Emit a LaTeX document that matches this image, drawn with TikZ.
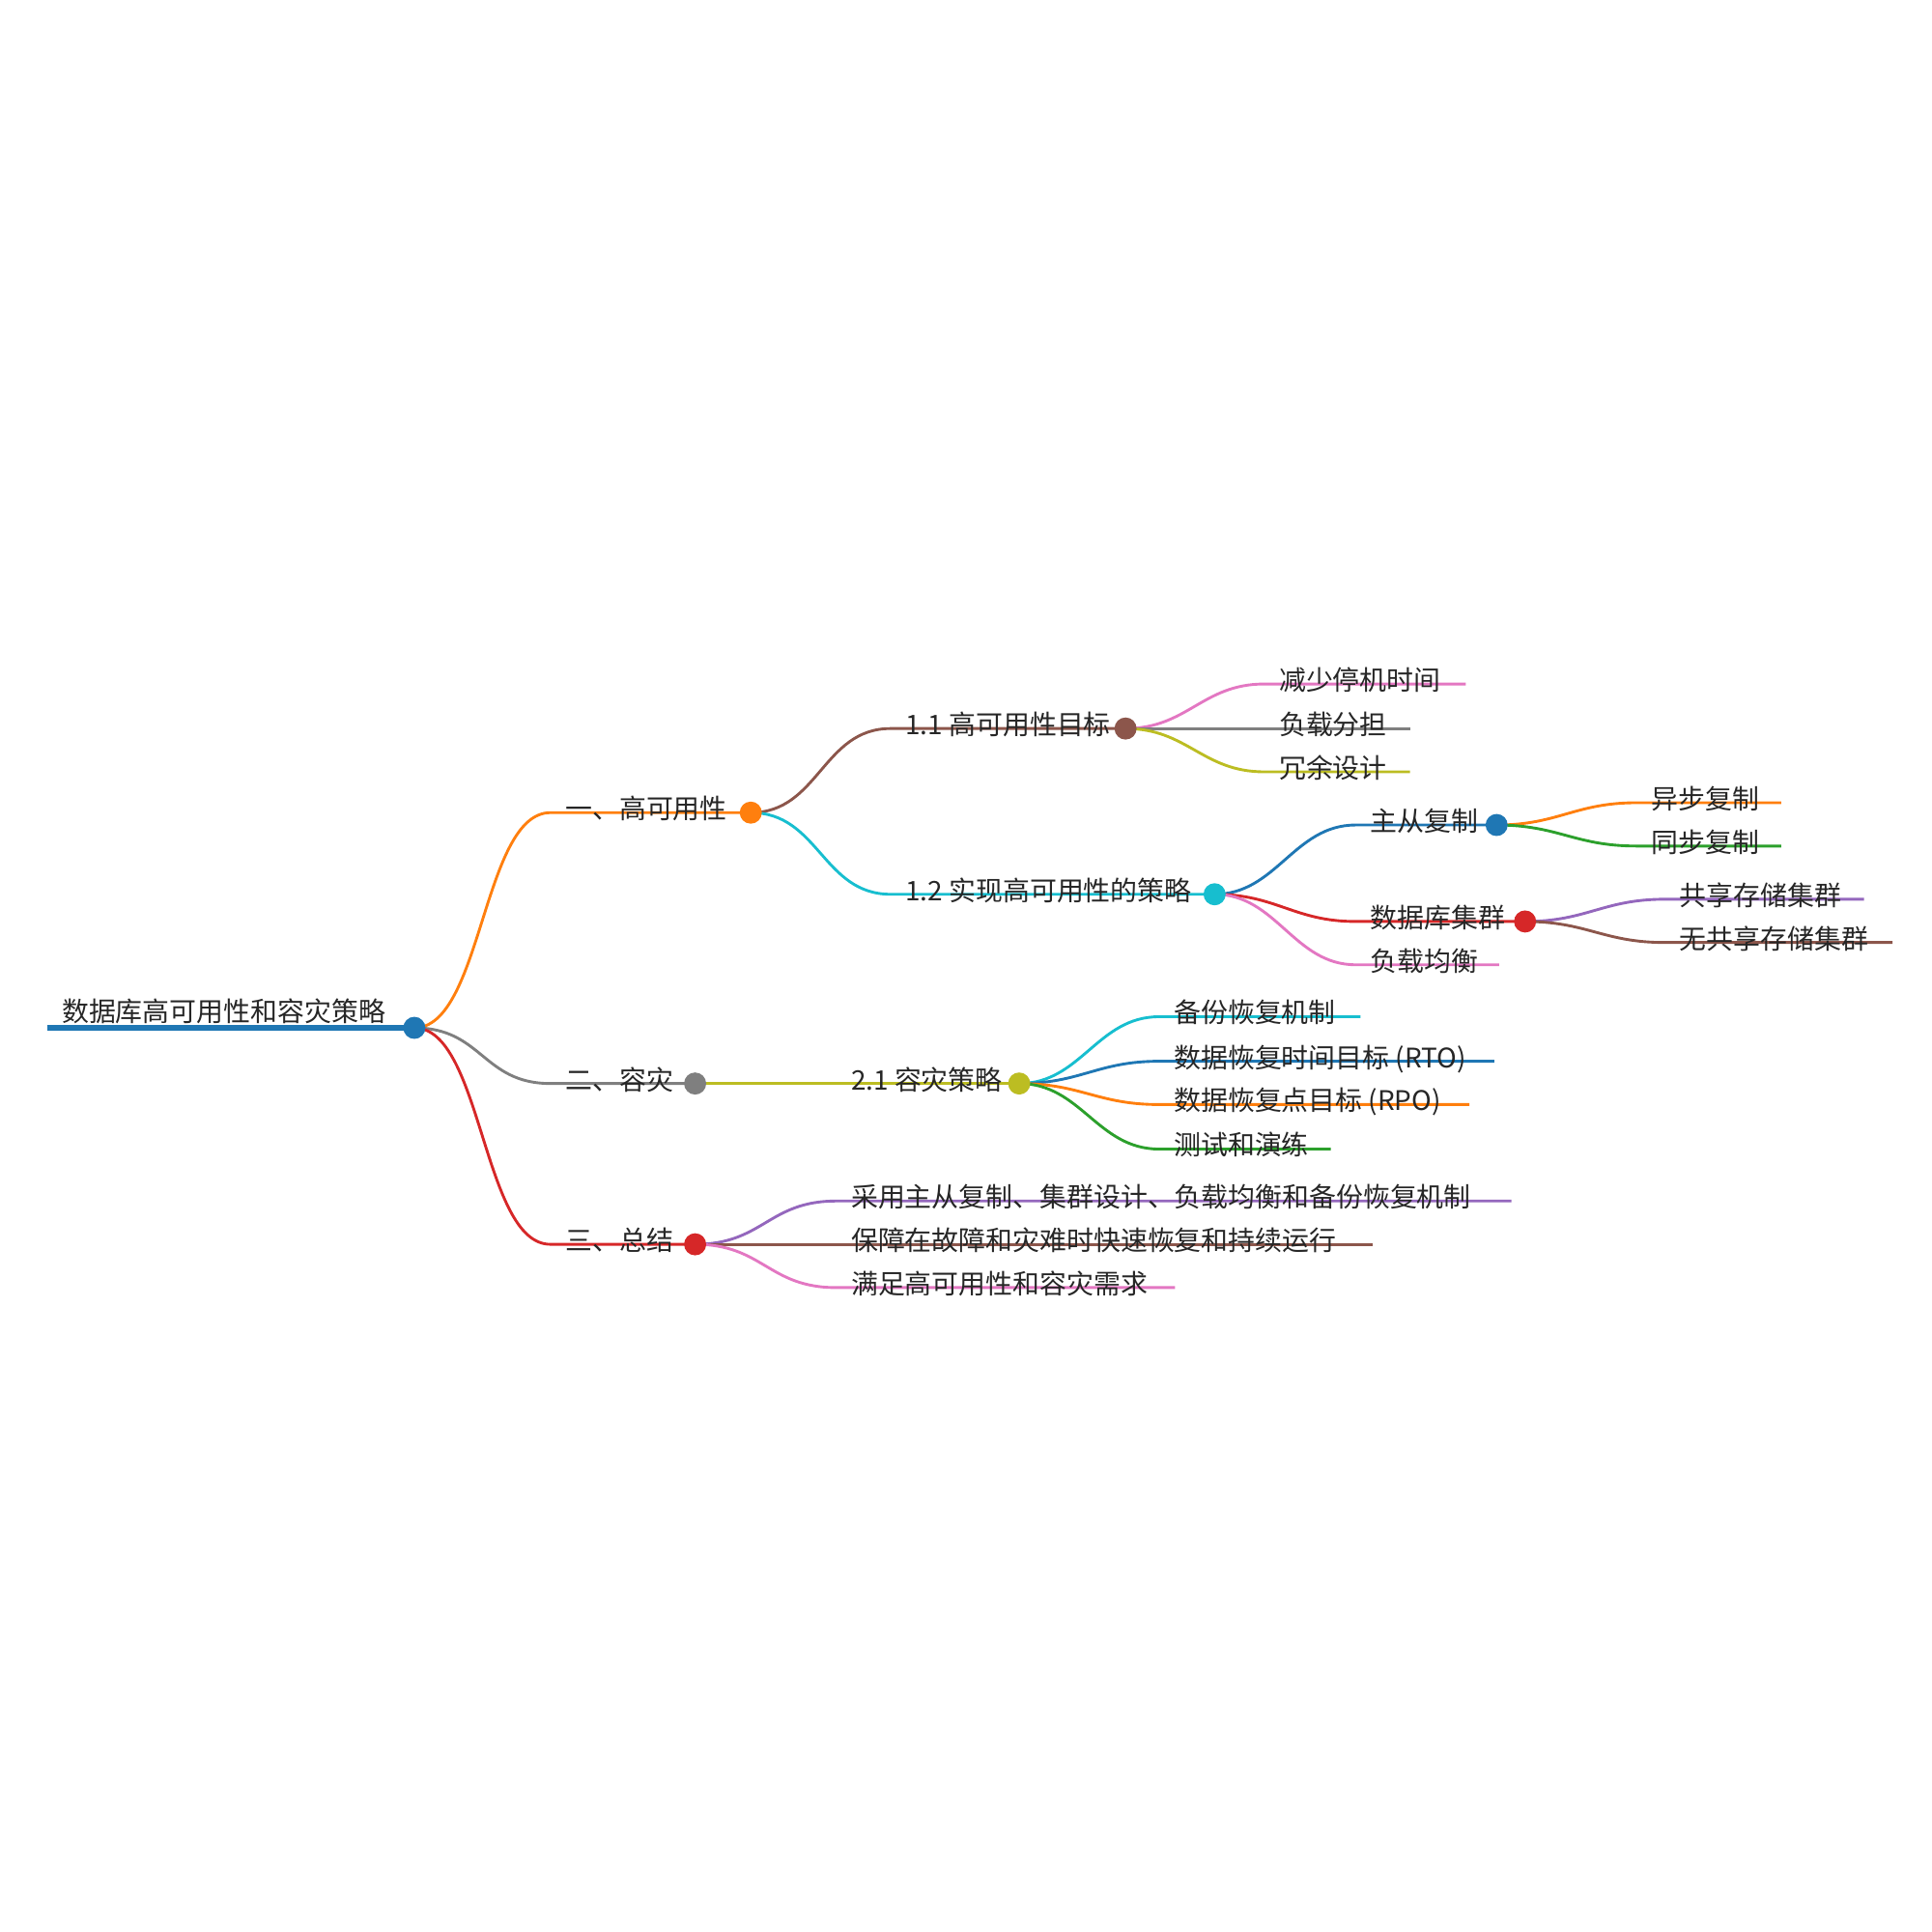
\documentclass[tikz,border=0pt]{standalone}
\usepackage{fontspec}
\setmainfont{Noto Sans CJK SC}
\usetikzlibrary{calc}
\definecolor{cblue}{HTML}{1F77B4}\definecolor{corange}{HTML}{FF7F0E}
\definecolor{cgreen}{HTML}{2CA02C}\definecolor{cred}{HTML}{D62728}
\definecolor{cpurple}{HTML}{9467BD}\definecolor{cbrown}{HTML}{8C564B}
\definecolor{cpink}{HTML}{E377C2}\definecolor{cgray}{HTML}{7F7F7F}
\definecolor{colive}{HTML}{BCBD22}\definecolor{ccyan}{HTML}{17BECF}
\tikzset{lbl/.style={anchor=base west,inner sep=0pt,font=\fontsize{31}{36}\selectfont,text=black!85},
 br/.style={line width=3.2pt},
 dot/.style={circle,draw,fill=white,line width=2.6pt,minimum size=0.8cm,inner sep=0pt}}
% \leaf{name}{parent}{x1}{y}{x2}{color}{text}{dx}
\newcommand\leaf[8]{%
 \coordinate (#1s) at (#3,#4); \coordinate (#1e) at (#5,#4);
 \draw[br,#6] (#2) .. controls ($(#2)+(#8,0)$) and ($(#1s)+(-#8,0)$) .. (#1s) -- (#1e);
 \node[lbl] (#1t) at ($(#1s)+(12,5)$) {#7};}
\begin{document}
\begin{tikzpicture}[x=0.05cm,y=-0.05cm]
\useasboundingbox (0,0) rectangle (1562,1562);
\coordinate (r) at (335,831); \coordinate (rs) at (38,831);
\draw[line width=6pt,cblue] (rs) -- (r);
\node[lbl] (rt) at (50,826) {数据库高可用性和容灾策略};
\coordinate (A) at (607,657); \coordinate (B) at (562,876); \coordinate (C) at (562,1006);
\coordinate (A1) at (910,589); \coordinate (A2) at (982,723);
\coordinate (A21) at (1210,667); \coordinate (A22) at (1233,745);
\coordinate (B1) at (824,876);
\leaf{a}{r}{445}{657}{607}{corange}{一、高可用性}{55}
\leaf{b}{r}{445}{876}{562}{cgray}{二、容灾}{55}
\leaf{c}{r}{445}{1006}{562}{cred}{三、总结}{55}
\leaf{a1}{A}{720}{589}{910}{cbrown}{1.1 高可用性目标}{55}
\leaf{a2}{A}{720}{723}{982}{ccyan}{1.2 实现高可用性的策略}{55}
\leaf{a11}{A1}{1022}{553}{1185}{cpink}{减少停机时间}{50}
\leaf{a12}{A1}{1022}{589}{1140}{cgray}{负载分担}{50}
\leaf{a13}{A1}{1022}{624}{1140}{colive}{冗余设计}{50}
\leaf{a21}{A2}{1096}{667}{1210}{cblue}{主从复制}{50}
\leaf{a22}{A2}{1096}{745}{1233}{cred}{数据库集群}{50}
\leaf{a23}{A2}{1096}{780}{1212}{cpink}{负载均衡}{50}
\leaf{a211}{A21}{1323}{649}{1440}{corange}{异步复制}{50}
\leaf{a212}{A21}{1323}{684}{1440}{cgreen}{同步复制}{50}
\leaf{a221}{A22}{1346}{727}{1507}{cpurple}{共享存储集群}{50}
\leaf{a222}{A22}{1346}{762}{1530}{cbrown}{无共享存储集群}{50}
\leaf{b1}{B}{676}{876}{824}{colive}{2.1 容灾策略}{55}
\leaf{b11}{B1}{937}{822}{1100}{ccyan}{备份恢复机制}{50}
\leaf{b12}{B1}{937}{858}{1208}{cblue}{数据恢复时间目标 (RTO)}{50}
\leaf{b13}{B1}{937}{893}{1188}{corange}{数据恢复点目标 (RPO)}{50}
\leaf{b14}{B1}{937}{929}{1076}{cgreen}{测试和演练}{50}
\leaf{c1}{C}{676}{971}{1222}{cpurple}{采用主从复制、集群设计、负载均衡和备份恢复机制}{55}
\leaf{c2}{C}{676}{1006}{1110}{cbrown}{保障在故障和灾难时快速恢复和持续运行}{55}
\leaf{c3}{C}{676}{1041}{950}{cpink}{满足高可用性和容灾需求}{55}
\node[dot,cblue] at (r) {};
\node[dot,corange] at (A) {};
\node[dot,cgray] at (B) {};
\node[dot,cred] at (C) {};
\node[dot,cbrown] at (A1) {};
\node[dot,ccyan] at (A2) {};
\node[dot,cblue] at (A21) {};
\node[dot,cred] at (A22) {};
\node[dot,colive] at (B1) {};
\end{tikzpicture}
\end{document}
